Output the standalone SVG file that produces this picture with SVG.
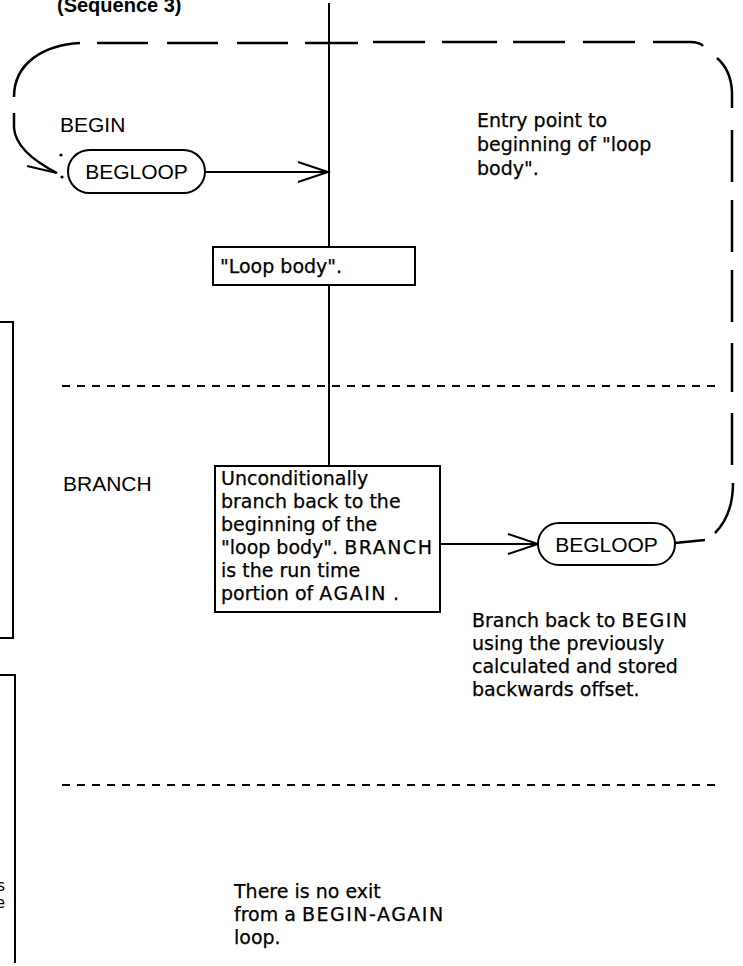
<svg xmlns="http://www.w3.org/2000/svg" width="743" height="966" viewBox="0 0 743 966">
<style>
.ln{fill:none;stroke:#000;stroke-width:2}
.dl{fill:none;stroke:#000;stroke-width:2.5}
.dot{fill:none;stroke:#000;stroke-width:2;stroke-dasharray:8 7}
.box{fill:#fff;stroke:#000;stroke-width:2}
.lab{font-family:"Liberation Sans",Arial,sans-serif;font-size:21px;fill:#000}
.txt{font-family:"DejaVu Sans",Verdana,sans-serif;font-size:19px;fill:#000;stroke:#000;stroke-width:0.25}
.cap{letter-spacing:1.5px}
.frag{font-family:"DejaVu Sans",Verdana,sans-serif;font-size:15px;fill:#000}
.ttl{font-family:"Liberation Sans",Arial,sans-serif;font-size:20px;font-weight:bold;fill:#000}
</style>
<rect width="743" height="966" fill="#fff"/>
<g id="title"><text class="ttl" x="57" y="12">(Sequence 3)</text></g>
<g id="separators">
<line class="dot" x1="62" y1="386" x2="716" y2="386"/>
<line class="dot" x1="62" y1="785" x2="722" y2="785"/>
</g>
<g id="left-fragments">
<path class="ln" d="M0,322 H13 V638 H0"/>
<path class="ln" d="M0,675 H15 V963"/>
<text class="frag" x="5" y="891" text-anchor="end">s</text>
<text class="frag" x="5" y="908" text-anchor="end">e</text>
</g>
<g id="connectors">
<line class="ln" x1="329" y1="3" x2="329" y2="247"/>
<line class="ln" x1="329" y1="285" x2="329" y2="466"/>
<line class="ln" x1="205" y1="172" x2="328" y2="172"/>
<path class="ln" d="M298,162 L328,172 L298,182"/>
<line class="ln" x1="440" y1="544" x2="538" y2="544"/>
<path class="ln" d="M508,534 L538,544 L508,554"/>
<path class="dl" d="M675,543 L705,540 M733,483 Q733,515 715,533 M732,465 V413 M732,392 V343 M732,322 V270 M732,252 V200 M732,182 V130 M732,108 V92 Q731,70 717,58 M703,46 Q700,42 690,42 H653 M635,42 H583 M565,42 H513 M497,42 H442 M425,42 H373 M358,43 H305 M288,43 H237 M218,43 H167 M148,43 H97 M80,43 C45,45 14,62 14,97"/>
<path class="dl" d="M14,113 L14,128 Q16,152 57,173"/>
<path class="ln" d="M27,166 L57,173"/>
<circle cx="61" cy="155" r="1.6"/>
<circle cx="62" cy="177" r="1.6"/>
</g>
<g id="begin-label"><text class="lab" x="60" y="132">BEGIN</text></g>
<g id="begloop-1">
<rect class="box" x="68" y="150" width="137" height="43" rx="21.5"/>
<text class="lab" x="136.5" y="179" text-anchor="middle">BEGLOOP</text>
</g>
<g id="entry-note">
<text class="txt" x="477" y="127">Entry point to</text>
<text class="txt" x="477" y="151">beginning of "loop</text>
<text class="txt" x="477" y="175">body".</text>
</g>
<g id="loop-body">
<rect class="box" x="213" y="247" width="202" height="38"/>
<text class="txt" x="220" y="273">"Loop body".</text>
</g>
<g id="branch-label"><text class="lab" x="63" y="491">BRANCH</text></g>
<g id="branch-box">
<rect class="box" x="215" y="466" width="225" height="146"/>
<text class="txt" x="221" y="485">Unconditionally</text>
<text class="txt" x="221" y="508">branch back to the</text>
<text class="txt" x="221" y="531">beginning of the</text>
<text class="txt" x="221" y="554">"loop body". <tspan class="cap">BRANCH</tspan></text>
<text class="txt" x="221" y="577">is the run time</text>
<text class="txt" x="221" y="600">portion of <tspan class="cap">AGAIN</tspan> .</text>
</g>
<g id="begloop-2">
<rect class="box" x="538" y="523" width="137" height="42" rx="21"/>
<text class="lab" x="606.5" y="551.5" text-anchor="middle">BEGLOOP</text>
</g>
<g id="branch-note">
<text class="txt" x="472" y="627">Branch back to <tspan class="cap">BEGIN</tspan></text>
<text class="txt" x="472" y="650">using the previously</text>
<text class="txt" x="472" y="673">calculated and stored</text>
<text class="txt" x="472" y="696">backwards offset.</text>
</g>
<g id="exit-note">
<text class="txt" x="234" y="898">There is no exit</text>
<text class="txt" x="234" y="921">from a <tspan class="cap">BEGIN-AGAIN</tspan></text>
<text class="txt" x="234" y="944">loop.</text>
</g>
</svg>
